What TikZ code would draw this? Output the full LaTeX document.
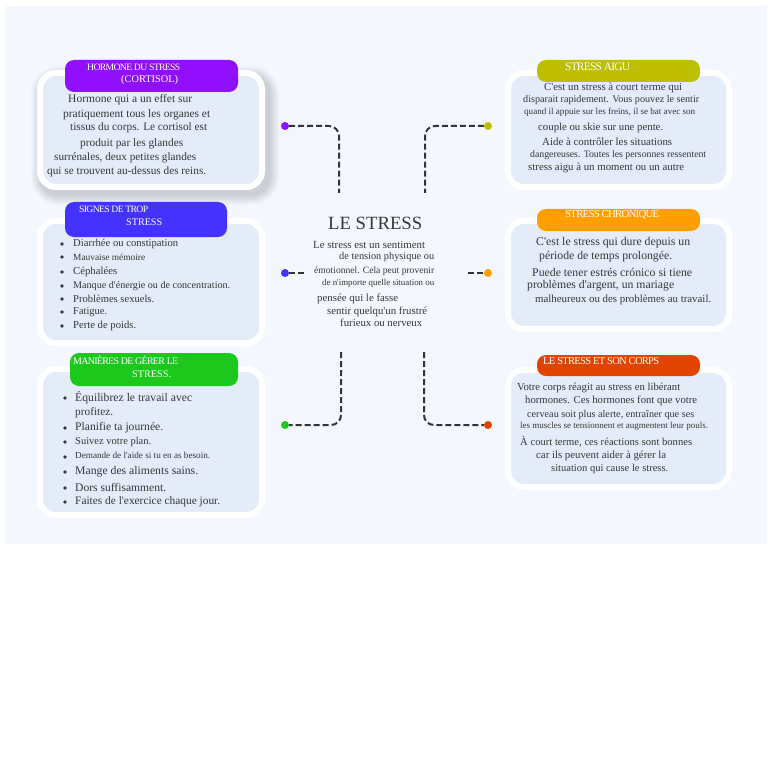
\documentclass[tikz,border=0pt]{standalone}
\usepackage{fontspec}
\setmainfont{Liberation Serif}
\definecolor{panelbg}{HTML}{F4F8FE}
\definecolor{cardbg}{HTML}{E4ECFA}
\definecolor{txtc}{HTML}{363636}
\definecolor{cpurple}{HTML}{9010FE}
\definecolor{cblue}{HTML}{4433FF}
\definecolor{cgreen}{HTML}{1CC81C}
\definecolor{colive}{HTML}{BDBF00}
\definecolor{corange}{HTML}{FF9F00}
\definecolor{cred}{HTML}{E14400}
\definecolor{conncol}{HTML}{333333}
\newlength\tlwd
\newcommand\fitw[3]{%
  \settowidth\tlwd{\fontsize{10}{12}\selectfont #3#2}%
  \pgfmathsetmacro\tlfs{10*#1/\tlwd}%
  \fontsize{\tlfs}{\tlfs}\selectfont #3#2}
\newcommand\tline[6][txtc]{%
  \node[text=#1,anchor=west,inner sep=0pt] (#2) at (#3,-#4) {\fitw{#5}{#6}{}};%
}
\newcommand\tlinet[5]{%
  \node[text=white,anchor=west,inner sep=0pt] (#1) at (#2,-#3) {\fitw{#4}{#5}{\addfontfeature{LetterSpace=-7}}};%
}
\newcommand\ap{\textquotesingle}
\tikzset{
  card/.style={draw=white,line width=6pt,fill=cardbg,rounded corners=16pt,inner sep=0pt},
  pill/.style={rounded corners=9pt,inner sep=0pt},
  dot/.style={circle,inner sep=0pt,minimum size=8pt},
  bul/.style={circle,inner sep=0pt,minimum size=3.6pt,fill=txtc},
  conn/.style={draw=conncol,line width=2pt,dash pattern=on 6pt off 3pt,rounded corners=10pt}
}
\begin{document}
\begin{tikzpicture}[x=1pt,y=1pt]
\useasboundingbox (0,0) rectangle (768,-762);
\fill[white] (0,0) rectangle (768,-762);
\fill[panelbg] (6,-6) rectangle (767,-544);

% soft shadow of the first card
\foreach \i [evaluate=\i as \r using 18+\i] in {1,...,10}
  \fill[black,opacity=0.016,rounded corners=\r pt] (41-\i,-76+\i) rectangle (269+\i,-195-\i);

% cards
\node[card,minimum width=222pt,minimum height=114pt] (c1) at (151,-130) {};
\node[card,minimum width=222pt,minimum height=122pt] (c2) at (151,-282) {};
\node[card,minimum width=222pt,minimum height=146pt] (c3) at (151,-442) {};
\node[card,minimum width=221pt,minimum height=114pt] (c4) at (618.5,-130) {};
\node[card,minimum width=221pt,minimum height=108pt] (c5) at (618.5,-275) {};
\node[card,minimum width=221pt,minimum height=117pt] (c6) at (618.5,-428.5) {};

% header pills
\node[pill,fill=cpurple,minimum width=173pt,minimum height=32pt] (h1) at (151.5,-76) {};
\node[pill,fill=cblue,minimum width=162pt,minimum height=35pt] (h2) at (146,-219.5) {};
\node[pill,fill=cgreen,minimum width=168pt,minimum height=33pt] (h3) at (154,-369.5) {};
\node[pill,fill=colive,minimum width=163pt,minimum height=22pt] (h4) at (618.5,-71) {};
\node[pill,fill=corange,minimum width=163pt,minimum height=22pt] (h5) at (618.5,-220) {};
\node[pill,fill=cred,minimum width=163pt,minimum height=21pt] (h6) at (618.5,-365.5) {};

% header texts
\tlinet{t1a}{87}{67}{93}{HORMONE DU STRESS}
\tline[white]{t1b}{121}{80}{57}{(CORTISOL)}
\tlinet{t2a}{79}{209}{69}{SIGNES DE TROP}
\tline[white]{t2b}{126}{222}{36}{STRESS}
\tlinet{t3a}{73}{360}{105}{MANIÈRES DE GÉRER LE}
\tline[white]{t3b}{132}{374}{39}{STRESS.}
\tlinet{t4a}{565}{67}{65}{STRESS AIGU}
\tlinet{t5a}{565}{215}{94}{STRESS CHRONIQUE}
\tlinet{t6a}{543}{361}{116}{LE STRESS ET SON CORPS}

% card 1 body
\tline{a1}{68}{100}{124}{Hormone qui a un effet sur}
\tline{a2}{63}{115}{147}{pratiquement tous les organes et}
\tline{a3}{70}{128}{137}{tissus du corps. Le cortisol est}
\tline{a4}{80}{144}{103}{produit par les glandes}
\tline{a5}{54}{158}{142}{surrénales, deux petites glandes}
\tline{a6}{47}{172}{159}{qui se trouvent au-dessus des reins.}

% card 2 body
\node[bul] (bb1) at (62,-244) {};
\node[bul] (bb2) at (62,-257) {};
\node[bul] (bb3) at (62,-272) {};
\node[bul] (bb4) at (62,-286) {};
\node[bul] (bb5) at (62,-299) {};
\node[bul] (bb6) at (62,-312) {};
\node[bul] (bb7) at (62,-326) {};
\tline{b1}{73}{244}{105}{Diarrhée ou constipation}
\tline{b2}{73}{257}{72}{Mauvaise mémoire}
\tline{b3}{73}{272}{44}{Céphalées}
\tline{b4}{73}{286}{157}{Manque d\ap énergie ou de concentration.}
\tline{b5}{73}{299}{81}{Problèmes sexuels.}
\tline{b6}{73}{312}{34}{Fatigue.}
\tline{b7}{73}{326}{63}{Perte de poids.}

% card 3 body
\node[bul] (cb1) at (65,-398) {};
\node[bul] (cb2) at (65,-428) {};
\node[bul] (cb3) at (65,-442) {};
\node[bul] (cb4) at (65,-457) {};
\node[bul] (cb5) at (65,-472) {};
\node[bul] (cb6) at (65,-488) {};
\node[bul] (cb7) at (65,-502) {};
\tline{g1}{75}{398}{117}{Équilibrez le travail avec}
\tline{g2}{75}{413}{38}{profitez.}
\tline{g3}{75}{428}{88}{Planifie ta journée.}
\tline{g4}{75}{442}{76}{Suivez votre plan.}
\tline{g5}{75}{455}{135}{Demande de l\ap aide si tu en as besoin.}
\tline{g6}{75}{472}{123}{Mange des aliments sains.}
\tline{g7}{75}{488}{91}{Dors suffisamment.}
\tline{g8}{75}{502}{145}{Faites de l\ap exercice chaque jour.}

% centre
\tline{title}{328}{223}{94}{LE STRESS}
\tline{m1}{313}{245}{112}{Le stress est un sentiment}
\tline{m2}{339}{257}{95}{de tension physique ou}
\tline{m3}{314}{271}{120}{émotionnel. Cela peut provenir}
\tline{m4}{322}{283}{112}{de n\ap importe quelle situation ou}
\tline{m5}{317}{299}{81}{pensée qui le fasse}
\tline{m6}{327}{312}{100}{sentir quelqu\ap un frustré}
\tline{m7}{340}{323}{82}{furieux ou nerveux}

% card 4 body
\tline{r1}{544}{88}{138}{C\ap est un stress à court terme qui}
\tline{r2}{523}{100}{176}{disparait rapidement. Vous pouvez le sentir}
\tline{r3}{524}{112}{171}{quand il appuie sur les freins, il se bat avec son}
\tline{r4}{538}{128}{125}{couple ou skie sur une pente.}
\tline{r5}{542}{142}{130}{Aide à contrôler les situations}
\tline{r6}{530}{155}{176}{dangereuses. Toutes les personnes ressentent}
\tline{r7}{528}{168}{156}{stress aigu à un moment ou un autre}

% card 5 body
\tline{s1}{536}{243}{154}{C\ap est le stress qui dure depuis un}
\tline{s2}{539}{257}{133}{période de temps prolongée.}
\tline{s3}{532}{272}{160}{Puede tener estrés crónico si tiene}
\tline{s4}{527}{286}{147}{problèmes d\ap argent, un mariage}
\tline{s5}{535}{300}{176}{malheureux ou des problèmes au travail.}

% card 6 body
\tline{u1}{517}{388}{163}{Votre corps réagit au stress en libérant}
\tline{u2}{525}{401}{172}{hormones. Ces hormones font que votre}
\tline{u3}{527}{415}{167}{cerveau soit plus alerte, entraîner que ses}
\tline{u4}{520}{426}{188}{les muscles se tensionnent et augmentent leur pouls.}
\tline{u5}{520}{442}{172}{À court terme, ces réactions sont bonnes}
\tline{u6}{536}{456}{130}{car ils peuvent aider à gérer la}
\tline{u7}{551}{469}{117}{situation qui cause le stress.}

% dots
\node[dot,fill=cpurple] (d1) at (285,-126) {};
\node[dot,fill=cblue] (d2) at (285,-273) {};
\node[dot,fill=cgreen] (d3) at (285,-425) {};
\node[dot,fill=colive] (d4) at (488,-126) {};
\node[dot,fill=corange] (d5) at (488,-273) {};
\node[dot,fill=cred] (d6) at (488,-425) {};

% connectors
\coordinate (e1) at (339,-193);
\coordinate (e2) at (307,-273);
\coordinate (e3) at (341,-352);
\coordinate (e4) at (425,-193);
\coordinate (e5) at (468,-273);
\coordinate (e6) at (424,-352);
\draw[conn] (d1) -| (e1);
\draw[conn] (d2) -- (e2);
\draw[conn] (e3) |- (d3);
\draw[conn] (d4) -| (e4);
\draw[conn] (e5) -- (d5);
\draw[conn] (e6) |- (d6);
\end{tikzpicture}
\end{document}
